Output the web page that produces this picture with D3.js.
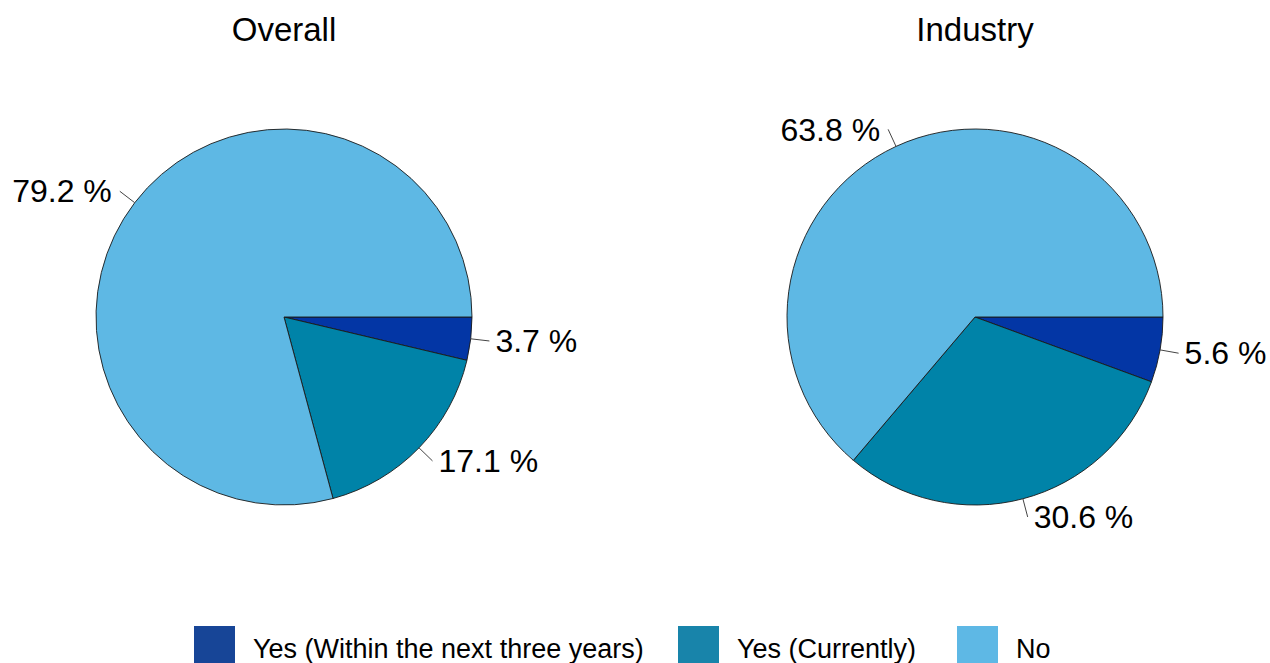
<!DOCTYPE html>
<html>
<head>
<meta charset="utf-8">
<script src="https://cdn.jsdelivr.net/npm/d3@7"></script>
<style>
  html, body { margin: 0; padding: 0; background: #fff; }
  svg text { font-family: "Liberation Sans", Arial, sans-serif; fill: #000; }
</style>
</head>
<body>
<svg id="chart" width="1270" height="663"></svg>
<script>
// Response categories, drawn clockwise from 3 o'clock
const categories = ["Yes (Within the next three years)", "Yes (Currently)", "No"];
const panels = ["Overall", "Industry"];
const overallValues = [3.7, 17.1, 79.2];
const industryValues = [5.6, 30.6, 63.8];
const sliceColors = ["#0336a5", "#0083a8", "#5eb8e4"];
const legendColors = ["#174597", "#1884aa", "#5eb8e5"];

const svg = d3.select("#chart");

const R = 188;
const centers = d3.scalePoint().domain(panels).range([284, 975]);
const cy = 317;
const labelSize = 32;

const pie = d3.pie().sort(null).value(d => d.value)
  .startAngle(Math.PI / 2).endAngle(Math.PI / 2 + 2 * Math.PI);
const arc = d3.arc().innerRadius(0).outerRadius(R);
const color = d3.scaleOrdinal().domain(categories).range(sliceColors);

const seriesByPanel = { "Overall": overallValues, "Industry": industryValues };

panels.forEach(p => {
  const cx = centers(p);
  const data = categories.map((c, i) => ({ cat: c, value: seriesByPanel[p][i] }));
  const g = svg.append("g").attr("transform", `translate(${cx},${cy})`);

  g.selectAll("path.slice").data(pie(data)).join("path")
    .attr("class", "slice")
    .attr("d", arc)
    .attr("fill", d => color(d.data.cat))
    .attr("stroke", "#1a1a1a")
    .attr("stroke-width", 0.9);

  const labels = g.selectAll("g.lab").data(pie(data)).join("g").attr("class", "lab");
  labels.each(function(d) {
    const a = (d.startAngle + d.endAngle) / 2;
    const ux = Math.sin(a), uy = -Math.cos(a);
    const sel = d3.select(this);
    sel.append("line")
      .attr("x1", ux * R).attr("y1", uy * R)
      .attr("x2", ux * R * 1.1).attr("y2", uy * R * 1.1)
      .attr("stroke", "#444").attr("stroke-width", 1);
    const left = ux < 0;
    sel.append("text")
      .attr("x", ux * R * 1.1 + (left ? -8 : 6))
      .attr("y", uy * R * 1.1 + labelSize * 0.35)
      .attr("text-anchor", left ? "end" : "start")
      .attr("font-size", labelSize)
      .text(d3.format(".1f")(d.data.value) + " %");
  });

  svg.append("text")
    .attr("x", cx).attr("y", 41)
    .attr("text-anchor", "middle")
    .attr("font-size", 33)
    .text(p);
});

// Legend along the bottom edge
const legendX = [194, 678, 957];
const legend = svg.append("g");
categories.forEach((c, i) => {
  legend.append("rect")
    .attr("x", legendX[i]).attr("y", 626)
    .attr("width", 41).attr("height", 41)
    .attr("fill", legendColors[i]);
  legend.append("text")
    .attr("x", legendX[i] + 59).attr("y", 658)
    .attr("font-size", 27)
    .text(c);
});
</script>
</body>
</html>
